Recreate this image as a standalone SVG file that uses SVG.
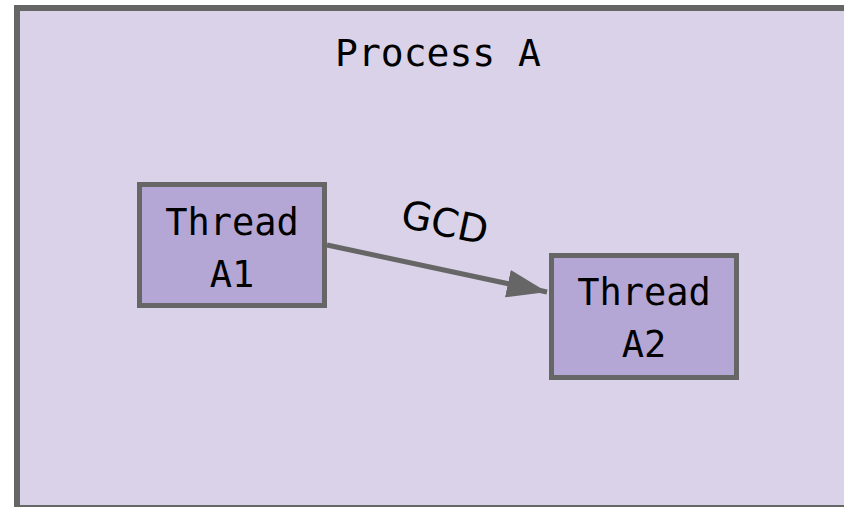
<svg xmlns="http://www.w3.org/2000/svg" width="844" height="507" viewBox="0 0 844 507">
<style>
.mono{font-family:"DejaVu Sans Mono","Liberation Mono",monospace;font-size:37px;fill:#000;text-anchor:middle}
.node{fill:#b4a7d6;stroke:#666;stroke-width:5}
</style>
<defs>
<marker id="ah" markerUnits="userSpaceOnUse" markerWidth="42" markerHeight="30" refX="40" refY="14" orient="auto" viewBox="0 0 42 28">
<path d="M0,0 L40,14 L0,28 Z" fill="#666"/>
</marker>
</defs>
<rect width="844" height="507" fill="#fff"/>
<g id="processA">
<rect x="17" y="8" width="840" height="500" fill="#d9d2e9" stroke="#666" stroke-width="6"/>
<text class="mono" x="438" y="66" style="font-size:38px">Process A</text>
</g>
<g id="connectors">
<line x1="327" y1="245" x2="547" y2="292" stroke="#666" stroke-width="5" marker-end="url(#ah)"/>
<text x="445" y="236" transform="rotate(12 445 222)" font-family="DejaVu Sans,Open Sans,sans-serif" font-size="39" text-anchor="middle" fill="#000">GCD</text>
</g>
<g id="threadA1">
<rect class="node" x="139.5" y="184.5" width="185" height="121"/>
<text class="mono" x="232" y="235">Thread</text>
<text class="mono" x="232" y="287">A1</text>
</g>
<g id="threadA2">
<rect class="node" x="551.5" y="255.5" width="185" height="122"/>
<text class="mono" x="644" y="305">Thread</text>
<text class="mono" x="644" y="357">A2</text>
</g>
</svg>
